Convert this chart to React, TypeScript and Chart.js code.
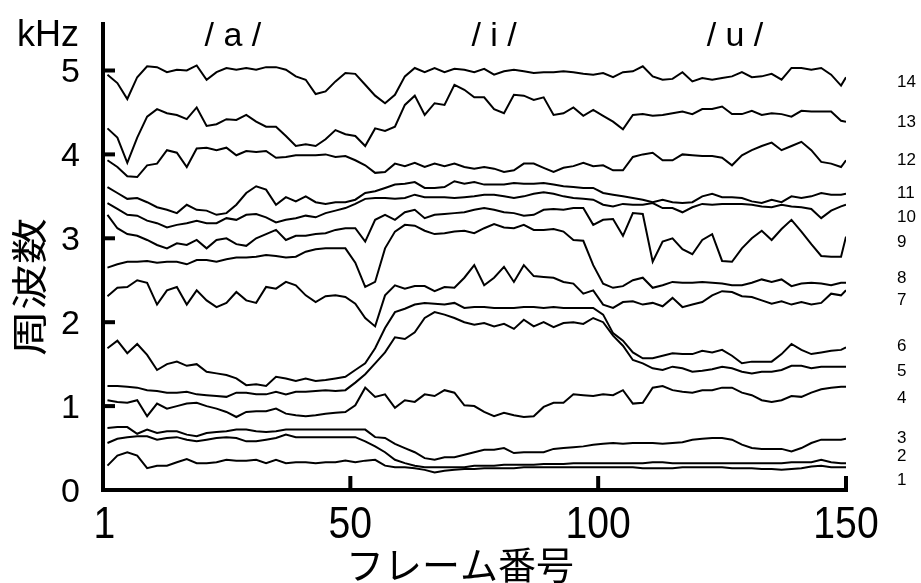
import React, { useEffect, useRef } from "react";
import { Chart, registerables } from "chart.js";

Chart.register(...registerables);

// Frame numbers (x values)
const frames = [
  1, 3, 5, 7, 9, 11, 13, 15, 17, 19,
  21, 23, 25, 27, 29, 31, 33, 35, 37, 39,
  41, 43, 45, 47, 49, 51, 53, 55, 57, 59,
  61, 63, 65, 67, 69, 71, 73, 75, 77, 79,
  81, 83, 85, 87, 89, 91, 93, 95, 97, 99,
  101, 103, 105, 107, 109, 111, 113, 115, 117, 119,
  121, 123, 125, 127, 129, 131, 133, 135, 137, 139,
  141, 143, 145, 147, 149, 150,
];

// Frequency tracks in kHz (track 1 = lowest)
const s1 = [
  0.29, 0.41, 0.45, 0.41, 0.26, 0.29, 0.29, 0.33, 0.37, 0.32,
  0.32, 0.33, 0.36, 0.35, 0.35, 0.36, 0.32, 0.36, 0.32, 0.33,
  0.33, 0.32, 0.33, 0.33, 0.35, 0.33, 0.35, 0.36, 0.29, 0.27,
  0.27, 0.26, 0.24, 0.21, 0.23, 0.24, 0.25, 0.25, 0.26, 0.26,
  0.26, 0.26, 0.27, 0.27, 0.27, 0.27, 0.27, 0.27, 0.27, 0.27,
  0.27, 0.27, 0.27, 0.27, 0.26, 0.26, 0.26, 0.26, 0.27, 0.27,
  0.27, 0.27, 0.27, 0.26, 0.26, 0.26, 0.25, 0.25, 0.24, 0.25,
  0.26, 0.28, 0.29, 0.27, 0.27, 0.27,
];
const s2 = [
  0.56, 0.61, 0.63, 0.64, 0.64, 0.60, 0.62, 0.63, 0.60, 0.58,
  0.60, 0.62, 0.63, 0.62, 0.58, 0.58, 0.60, 0.62, 0.66, 0.63,
  0.63, 0.63, 0.63, 0.63, 0.63, 0.63, 0.58, 0.52, 0.45, 0.36,
  0.32, 0.29, 0.27, 0.27, 0.27, 0.27, 0.27, 0.29, 0.29, 0.29,
  0.30, 0.30, 0.30, 0.30, 0.31, 0.31, 0.31, 0.32, 0.32, 0.32,
  0.32, 0.32, 0.32, 0.32, 0.32, 0.33, 0.33, 0.32, 0.32, 0.32,
  0.32, 0.32, 0.32, 0.32, 0.32, 0.32, 0.32, 0.32, 0.32, 0.33,
  0.33, 0.33, 0.36, 0.33, 0.32, 0.32,
];
const s3 = [
  0.74, 0.75, 0.75, 0.67, 0.72, 0.68, 0.70, 0.70, 0.66, 0.64,
  0.68, 0.69, 0.70, 0.72, 0.72, 0.70, 0.69, 0.70, 0.72, 0.72,
  0.72, 0.72, 0.72, 0.72, 0.72, 0.72, 0.72, 0.63, 0.62, 0.55,
  0.50, 0.45, 0.38, 0.36, 0.39, 0.39, 0.42, 0.45, 0.48, 0.48,
  0.50, 0.44, 0.45, 0.45, 0.45, 0.49, 0.50, 0.51, 0.52, 0.54,
  0.55, 0.56, 0.55, 0.56, 0.56, 0.56, 0.55, 0.56, 0.57, 0.60,
  0.61, 0.62, 0.62, 0.60, 0.54, 0.50, 0.49, 0.49, 0.49, 0.46,
  0.50, 0.56, 0.60, 0.60, 0.60, 0.61,
];
const s4 = [
  1.07, 1.05, 1.04, 1.07, 0.88, 1.03, 0.97, 1.00, 1.03, 1.04,
  1.00, 0.97, 0.93, 0.87, 0.93, 0.94, 0.94, 0.97, 0.91, 0.89,
  0.88, 0.89, 0.91, 0.92, 0.93, 1.01, 1.22, 1.11, 1.14, 0.98,
  1.07, 1.05, 1.14, 1.12, 1.19, 1.16, 1.01, 1.00, 0.93, 0.88,
  0.92, 0.89, 0.87, 0.88, 0.99, 1.04, 1.04, 1.14, 1.13, 1.12,
  1.14, 1.13, 1.19, 1.03, 1.04, 1.22, 1.24, 1.19, 1.17, 1.16,
  1.19, 1.19, 1.22, 1.22, 1.16, 1.13, 1.07, 1.05, 1.07, 1.12,
  1.11, 1.16, 1.20, 1.22, 1.23, 1.23,
];
const s5 = [
  1.24, 1.24, 1.23, 1.22, 1.19, 1.18, 1.16, 1.16, 1.17, 1.14,
  1.13, 1.12, 1.11, 1.16, 1.16, 1.14, 1.14, 1.17, 1.14, 1.17,
  1.17, 1.18, 1.19, 1.18, 1.19, 1.28, 1.38, 1.51, 1.64, 1.82,
  1.80, 1.88, 2.05, 2.12, 2.09, 2.05, 2.00, 1.97, 1.99, 1.95,
  1.98, 1.92, 2.03, 1.95, 2.00, 1.94, 1.99, 2.00, 1.98, 2.05,
  2.00, 1.84, 1.72, 1.55, 1.51, 1.45, 1.43, 1.47, 1.45, 1.41,
  1.42, 1.44, 1.47, 1.45, 1.41, 1.39, 1.41, 1.41, 1.43, 1.48,
  1.48, 1.45, 1.47, 1.47, 1.47, 1.47,
];
const s6 = [
  1.69, 1.78, 1.63, 1.74, 1.61, 1.43, 1.50, 1.53, 1.48, 1.50,
  1.41, 1.39, 1.37, 1.33, 1.25, 1.26, 1.24, 1.35, 1.33, 1.30,
  1.33, 1.30, 1.31, 1.33, 1.35, 1.43, 1.51, 1.69, 1.93, 2.12,
  2.16, 2.21, 2.23, 2.22, 2.21, 2.23, 2.17, 2.18, 2.18, 2.17,
  2.17, 2.17, 2.18, 2.18, 2.17, 2.18, 2.17, 2.17, 2.17, 2.17,
  2.09, 1.87, 1.78, 1.64, 1.57, 1.57, 1.60, 1.63, 1.62, 1.62,
  1.66, 1.64, 1.67, 1.60, 1.51, 1.53, 1.53, 1.53, 1.62, 1.74,
  1.67, 1.62, 1.64, 1.66, 1.67, 1.70,
];
const s7 = [
  2.31, 2.41, 2.42, 2.50, 2.47, 2.21, 2.38, 2.42, 2.21, 2.38,
  2.26, 2.18, 2.23, 2.36, 2.26, 2.23, 2.42, 2.40, 2.48, 2.44,
  2.32, 2.24, 2.31, 2.32, 2.30, 2.22, 2.05, 1.95, 2.32, 2.44,
  2.40, 2.43, 2.43, 2.37, 2.42, 2.41, 2.53, 2.68, 2.44, 2.53,
  2.66, 2.48, 2.68, 2.55, 2.54, 2.53, 2.48, 2.46, 2.34, 2.38,
  2.21, 2.17, 2.24, 2.25, 2.21, 2.23, 2.19, 2.29, 2.18, 2.21,
  2.24, 2.32, 2.37, 2.36, 2.31, 2.30, 2.26, 2.22, 2.25, 2.21,
  2.24, 2.21, 2.23, 2.34, 2.32, 2.38,
];
const s8 = [
  2.65, 2.69, 2.72, 2.72, 2.73, 2.71, 2.72, 2.72, 2.69, 2.74,
  2.74, 2.72, 2.75, 2.77, 2.77, 2.78, 2.80, 2.79, 2.77, 2.78,
  2.84, 2.87, 2.88, 2.88, 2.88, 2.71, 2.42, 2.48, 2.88, 3.08,
  3.16, 3.15, 3.09, 3.05, 3.06, 3.08, 3.09, 3.06, 3.12, 3.17,
  3.13, 3.12, 3.16, 3.10, 3.10, 3.11, 3.08, 2.98, 2.97, 2.68,
  2.46, 2.41, 2.43, 2.50, 2.53, 2.41, 2.44, 2.48, 2.47, 2.47,
  2.48, 2.47, 2.46, 2.44, 2.44, 2.47, 2.51, 2.48, 2.51, 2.43,
  2.46, 2.47, 2.46, 2.44, 2.47, 2.47,
];
const s9 = [
  3.28, 3.12, 3.05, 3.03, 2.98, 2.92, 2.88, 2.94, 2.92, 2.98,
  2.88, 2.98, 3.00, 2.93, 2.91, 3.00, 3.05, 3.10, 2.98, 3.03,
  3.03, 3.05, 3.06, 3.10, 3.12, 3.12, 2.96, 3.22, 3.28, 3.22,
  3.31, 3.34, 3.24, 3.28, 3.29, 3.30, 3.31, 3.34, 3.36, 3.34,
  3.31, 3.30, 3.27, 3.28, 3.34, 3.35, 3.34, 3.36, 3.36, 3.16,
  3.22, 3.23, 3.03, 3.30, 3.29, 2.72, 2.96, 3.00, 2.87, 2.81,
  2.98, 3.05, 2.73, 2.72, 2.88, 3.00, 3.09, 2.98, 3.11, 3.22,
  3.08, 2.93, 2.79, 2.78, 2.78, 3.02,
];
const s10 = [
  3.42, 3.35, 3.28, 3.27, 3.21, 3.18, 3.13, 3.16, 3.18, 3.21,
  3.18, 3.18, 3.24, 3.22, 3.28, 3.29, 3.25, 3.19, 3.22, 3.24,
  3.27, 3.25, 3.30, 3.33, 3.36, 3.41, 3.47, 3.48, 3.48, 3.47,
  3.48, 3.52, 3.49, 3.49, 3.49, 3.48, 3.49, 3.50, 3.52, 3.52,
  3.50, 3.48, 3.50, 3.53, 3.55, 3.53, 3.50, 3.48, 3.47, 3.46,
  3.40, 3.38, 3.41, 3.40, 3.40, 3.42, 3.36, 3.36, 3.31, 3.37,
  3.41, 3.40, 3.41, 3.41, 3.41, 3.40, 3.38, 3.37, 3.40, 3.38,
  3.37, 3.35, 3.24, 3.33, 3.38, 3.40,
];
const s11 = [
  3.61, 3.54, 3.47, 3.48, 3.43, 3.37, 3.34, 3.30, 3.40, 3.34,
  3.33, 3.28, 3.30, 3.40, 3.54, 3.62, 3.58, 3.40, 3.49, 3.44,
  3.50, 3.43, 3.41, 3.43, 3.43, 3.46, 3.54, 3.56, 3.60, 3.64,
  3.65, 3.67, 3.60, 3.60, 3.61, 3.68, 3.65, 3.67, 3.64, 3.64,
  3.64, 3.66, 3.65, 3.65, 3.66, 3.64, 3.62, 3.61, 3.60, 3.60,
  3.54, 3.52, 3.50, 3.48, 3.46, 3.43, 3.46, 3.43, 3.42, 3.43,
  3.50, 3.53, 3.49, 3.49, 3.48, 3.44, 3.42, 3.46, 3.43, 3.50,
  3.48, 3.50, 3.54, 3.52, 3.52, 3.53,
];
const s12 = [
  3.93, 3.85, 3.74, 3.73, 3.87, 3.89, 4.05, 4.02, 3.85, 4.07,
  4.08, 4.05, 4.08, 3.99, 4.04, 4.03, 4.04, 3.96, 3.97, 3.99,
  3.99, 3.99, 4.00, 3.97, 3.98, 3.93, 3.87, 3.78, 3.79, 3.89,
  3.86, 3.90, 3.85, 3.89, 3.86, 3.89, 3.85, 3.83, 3.85, 3.83,
  3.79, 3.81, 3.89, 3.89, 3.84, 3.79, 3.84, 3.86, 3.90, 3.86,
  3.87, 3.81, 3.81, 3.97, 4.00, 4.02, 3.93, 3.93, 4.00, 3.99,
  3.98, 3.98, 3.96, 3.87, 3.99, 4.05, 4.10, 4.14, 4.05, 4.10,
  4.15, 4.05, 3.91, 3.89, 3.85, 3.93,
];
const s13 = [
  4.31, 4.20, 3.90, 4.20, 4.45, 4.54, 4.49, 4.47, 4.42, 4.56,
  4.34, 4.36, 4.42, 4.41, 4.47, 4.39, 4.33, 4.33, 4.22, 4.10,
  4.12, 4.10, 4.18, 4.29, 4.24, 4.22, 4.10, 4.31, 4.28, 4.33,
  4.59, 4.70, 4.47, 4.61, 4.59, 4.83, 4.77, 4.68, 4.68, 4.54,
  4.49, 4.71, 4.70, 4.65, 4.68, 4.47, 4.49, 4.56, 4.46, 4.53,
  4.46, 4.39, 4.30, 4.47, 4.48, 4.46, 4.47, 4.49, 4.51, 4.48,
  4.54, 4.54, 4.57, 4.48, 4.48, 4.52, 4.47, 4.49, 4.48, 4.45,
  4.52, 4.51, 4.51, 4.51, 4.40, 4.39,
];
const s14 = [
  4.95, 4.85, 4.66, 4.92, 5.05, 5.04, 4.98, 5.01, 5.00, 5.06,
  4.89, 4.98, 5.03, 5.01, 5.03, 5.01, 5.04, 5.04, 5.01, 4.93,
  4.89, 4.72, 4.75, 4.87, 4.97, 4.96, 4.83, 4.70, 4.61, 4.71,
  4.93, 5.03, 4.98, 5.03, 4.98, 5.02, 5.01, 4.98, 5.02, 4.95,
  4.99, 5.01, 4.99, 4.97, 4.98, 4.98, 4.99, 4.98, 4.96, 4.95,
  4.97, 4.92, 4.98, 4.99, 5.05, 4.93, 4.89, 4.90, 4.98, 4.87,
  4.91, 4.89, 4.91, 4.93, 4.98, 4.92, 4.93, 4.96, 4.89, 5.03,
  5.03, 5.01, 5.03, 4.95, 4.82, 4.92,
];

const yTicks = [0, 1, 2, 3, 4, 5];
const xTicks = [1, 50, 100, 150];
const vowelLabels = ["/ a /", "/ i /", "/ u /"];
const trackLabels = ["1", "2", "3", "4", "5", "6", "7", "8", "9", "10", "11", "12", "13", "14"];
const yTitle = "周波数";
const xTitle = "フレーム番号";
const unitLabel = "kHz";

const LATIN = "'Liberation Sans', Arial, sans-serif";
const CJK = "'Noto Sans CJK JP', sans-serif";

function drawText(
  ctx: CanvasRenderingContext2D,
  s: string,
  x: number,
  y: number,
  font: string,
  align: CanvasTextAlign,
  sx = 1
) {
  ctx.save();
  ctx.translate(x, y);
  ctx.scale(sx, 1);
  ctx.font = font;
  ctx.textAlign = align;
  ctx.textBaseline = "alphabetic";
  ctx.fillStyle = "#000";
  ctx.fillText(s, 0, 0);
  ctx.restore();
}

export default function App() {
  const ref = useRef<HTMLCanvasElement>(null);

  useEffect(() => {
    document.body.style.margin = "0";
    const series = [s1, s2, s3, s4, s5, s6, s7, s8, s9, s10, s11, s12, s13, s14];
    const datasets = series.map((vals, k) => ({
      label: trackLabels[k],
      data: frames.map((f, i) => ({ x: f, y: vals[i] })),
      borderColor: "#000",
      borderWidth: 2,
      pointRadius: 0,
      fill: false,
      tension: 0,
    }));

    // positions of the right-hand track numbers (layout only)
    const trackLabelY = [479, 455, 437, 397, 370, 345, 299, 277, 241, 216, 192, 159, 121, 81];
    const vowelX = [26.3, 79, 127.6];

    const decor = {
      id: "decor",
      afterDraw(chart: any) {
        const ctx: CanvasRenderingContext2D = chart.ctx;
        const xs = chart.scales.x;
        const ys = chart.scales.y;
        const { left, right, top } = chart.chartArea;
        ctx.save();
        ctx.fillStyle = "#000";
        const y0 = ys.getPixelForValue(0);
        // axes
        ctx.fillRect(left - 3, top, 4, y0 - top + 2);
        ctx.fillRect(left - 3, y0 - 2, right - left + 5, 4);
        // y ticks (inward) + labels
        yTicks.forEach((v) => {
          const py = ys.getPixelForValue(v);
          if (v !== 0) ctx.fillRect(left + 1, py - 2, 10, 4);
          drawText(ctx, String(v), 80, py + 12, `34px ${LATIN}`, "right");
        });
        // x ticks (inward) + labels
        xTicks.forEach((v) => {
          const px = xs.getPixelForValue(v);
          if (v !== 1) ctx.fillRect(px - 2, y0 - 14, 4, 14);
          drawText(ctx, String(v), v === 1 ? px - 3 : px, 538, `45px ${LATIN}`, "center", 0.87);
        });
        // unit
        drawText(ctx, unitLabel, 17, 46, `36px ${LATIN}`, "left");
        // vowel labels
        vowelLabels.forEach((s, i) => {
          drawText(ctx, s, xs.getPixelForValue(vowelX[i]), 46, `34px ${LATIN}`, "center");
        });
        // track labels
        trackLabels.forEach((s, i) => {
          drawText(ctx, s, 897, trackLabelY[i] + 6, `17px ${LATIN}`, "left");
        });
        // x title
        drawText(ctx, xTitle, 460, 579, `38px ${CJK}`, "center");
        // y title
        ctx.save();
        ctx.translate(29, 287);
        ctx.rotate(-Math.PI / 2);
        ctx.scale(1, 0.8);
        ctx.font = `46px ${CJK}`;
        ctx.textAlign = "center";
        ctx.textBaseline = "middle";
        ctx.fillStyle = "#000";
        ctx.fillText(yTitle, 0, 0);
        ctx.restore();
        ctx.restore();
      },
    };

    const chart = new Chart(ref.current as HTMLCanvasElement, {
      type: "line",
      data: { datasets },
      options: {
        animation: false,
        responsive: false,
        devicePixelRatio: 1,
        layout: { padding: { left: 104, right: 75, top: 22, bottom: 93 } },
        plugins: { legend: { display: false }, tooltip: { enabled: false } },
        scales: {
          x: { type: "linear", min: 0.3, max: 150, display: false },
          y: { type: "linear", min: 0, max: 5.578, display: false },
        },
      },
      plugins: [decor],
    } as any);
    return () => chart.destroy();
  }, []);

  return (
    <div style={{ width: 921, height: 583, background: "#fff" }}>
      <canvas ref={ref} width={921} height={583} style={{ display: "block" }} />
    </div>
  );
}
